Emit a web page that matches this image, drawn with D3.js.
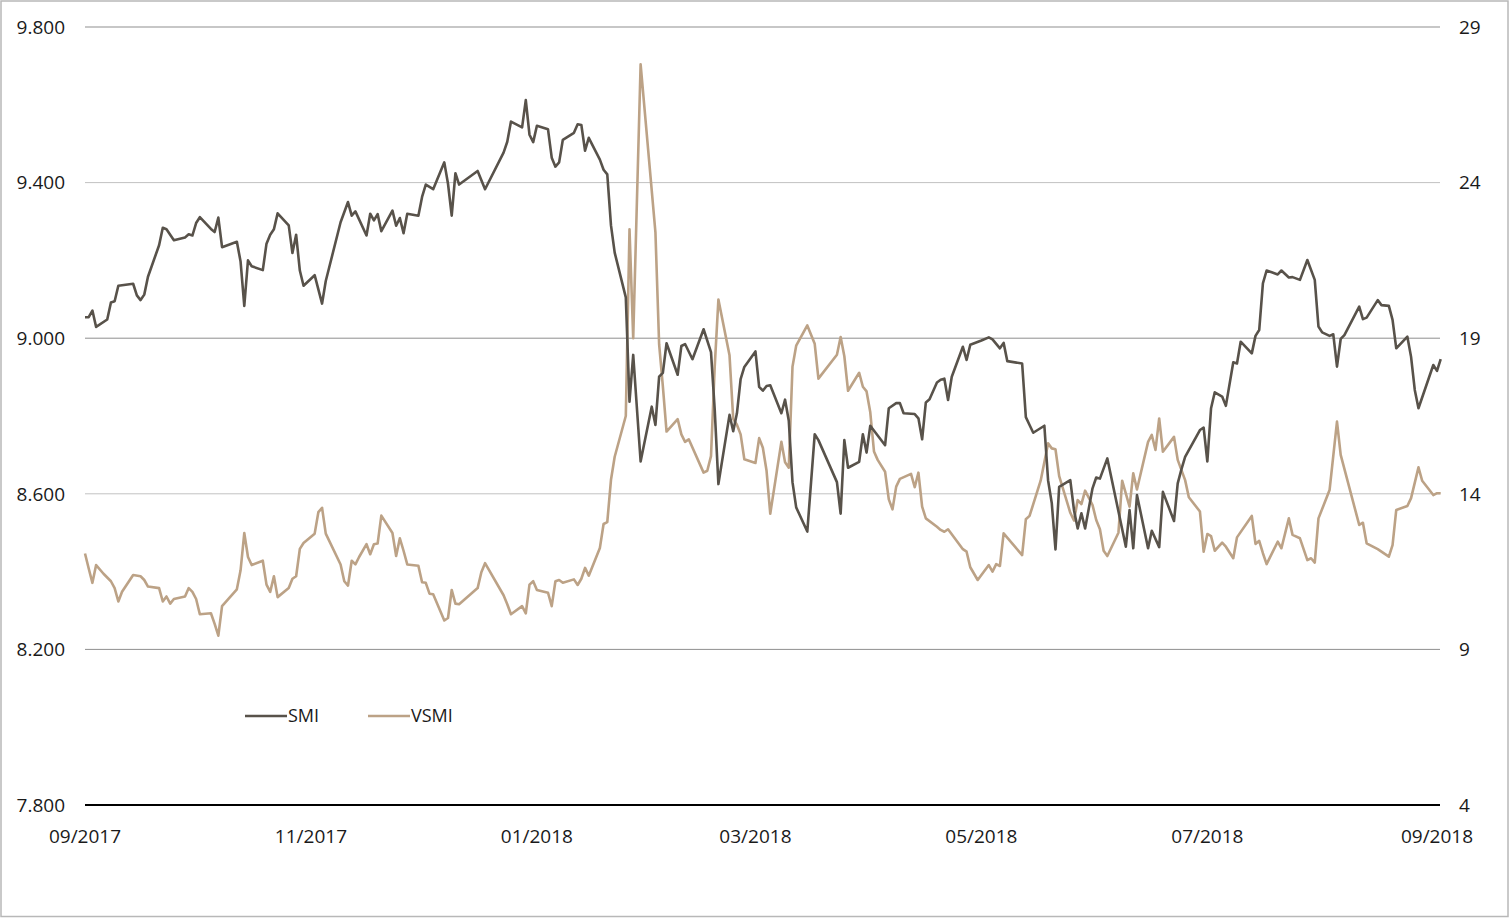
<!DOCTYPE html>
<html>
<head>
<meta charset="utf-8">
<script src="https://cdn.jsdelivr.net/npm/d3@7"></script>
<style>
  body { margin: 0; background: #fff; }
  svg text { font-family: "Open Sans", sans-serif; fill: #1a1a1a; }
</style>
</head>
<body>
<div id="chart"></div>
<script>
// SMI (left axis) and VSMI (right axis)
var smiDates = ["2017-09-01","2017-09-02","2017-09-03","2017-09-04","2017-09-07","2017-09-08","2017-09-09","2017-09-10","2017-09-14","2017-09-15","2017-09-16","2017-09-17","2017-09-18","2017-09-21","2017-09-22","2017-09-23","2017-09-25","2017-09-28","2017-09-29","2017-09-30",
  "2017-10-01","2017-10-02","2017-10-05","2017-10-06","2017-10-07","2017-10-08","2017-10-12","2017-10-13","2017-10-14","2017-10-15","2017-10-16","2017-10-19","2017-10-20","2017-10-21","2017-10-22","2017-10-23","2017-10-26","2017-10-27","2017-10-28","2017-10-29","2017-10-30",
  "2017-11-02","2017-11-04","2017-11-05","2017-11-09","2017-11-11","2017-11-12","2017-11-13","2017-11-16","2017-11-17","2017-11-18","2017-11-19","2017-11-20","2017-11-23","2017-11-24","2017-11-25","2017-11-26","2017-11-27","2017-11-30",
  "2017-12-01","2017-12-02","2017-12-04","2017-12-07","2017-12-08","2017-12-09","2017-12-10","2017-12-11","2017-12-16","2017-12-18","2017-12-23","2017-12-24","2017-12-25","2017-12-28","2017-12-29","2017-12-30","2017-12-31",
  "2018-01-01","2018-01-04","2018-01-05","2018-01-06","2018-01-07","2018-01-08","2018-01-11","2018-01-12","2018-01-13","2018-01-14","2018-01-15","2018-01-18","2018-01-19","2018-01-20","2018-01-21","2018-01-22","2018-01-25","2018-01-26","2018-01-27","2018-01-29",
  "2018-02-01","2018-02-02","2018-02-03","2018-02-04","2018-02-05","2018-02-08","2018-02-09","2018-02-10","2018-02-12","2018-02-15","2018-02-17","2018-02-18","2018-02-19","2018-02-22","2018-02-23","2018-02-24","2018-02-25","2018-02-26",
  "2018-03-01","2018-03-02","2018-03-03","2018-03-04","2018-03-05","2018-03-08","2018-03-09","2018-03-10","2018-03-11","2018-03-12","2018-03-15","2018-03-17","2018-03-18","2018-03-23","2018-03-24","2018-03-25","2018-03-26","2018-03-29","2018-03-30","2018-03-31",
  "2018-04-01","2018-04-05","2018-04-06","2018-04-08","2018-04-09","2018-04-10","2018-04-13","2018-04-14","2018-04-15","2018-04-16","2018-04-17","2018-04-19","2018-04-20","2018-04-21","2018-04-22","2018-04-23","2018-04-26","2018-04-27","2018-04-28",
  "2018-05-01","2018-05-03","2018-05-04","2018-05-06","2018-05-07","2018-05-08","2018-05-12","2018-05-13","2018-05-14","2018-05-15","2018-05-18","2018-05-19","2018-05-20","2018-05-21","2018-05-22","2018-05-25","2018-05-26","2018-05-27","2018-05-28","2018-05-29","2018-05-31",
  "2018-06-01","2018-06-02","2018-06-04","2018-06-09","2018-06-10","2018-06-11","2018-06-12","2018-06-15","2018-06-16","2018-06-18","2018-06-19","2018-06-22","2018-06-23","2018-06-24","2018-06-25","2018-06-29","2018-06-30",
  "2018-07-01","2018-07-02","2018-07-03","2018-07-05","2018-07-06","2018-07-08","2018-07-09","2018-07-10","2018-07-13","2018-07-14","2018-07-15","2018-07-16","2018-07-17","2018-07-20","2018-07-21","2018-07-23","2018-07-24","2018-07-26","2018-07-28","2018-07-30","2018-07-31",
  "2018-08-01","2018-08-03","2018-08-04","2018-08-05","2018-08-06","2018-08-07","2018-08-11","2018-08-12","2018-08-13","2018-08-16","2018-08-17","2018-08-19","2018-08-20","2018-08-21","2018-08-24","2018-08-25","2018-08-26","2018-08-27","2018-08-31",
  "2018-09-01","2018-09-02"];
var smiValues = [9054,9054,9071,9029,9048,9092,9095,9135,9140,9110,9098,9112,9158,9239,9284,9280,9252,9259,9267,9264,
  9296,9311,9281,9273,9310,9234,9248,9197,9083,9200,9185,9175,9243,9266,9280,9321,9290,9219,9266,9174,9135,
  9162,9089,9147,9298,9350,9315,9326,9264,9320,9303,9319,9275,9328,9289,9309,9270,9320,9315,
  9363,9395,9383,9452,9397,9315,9424,9395,9430,9383,9477,9505,9557,9542,9612,9523,9504,
  9546,9537,9464,9441,9452,9510,9528,9550,9548,9482,9515,9459,9433,9421,9290,9220,9105,8837,8957,8683,
  8824,8777,8901,8911,8987,8906,8980,8985,8946,9023,8964,8817,8625,8803,8761,8807,8895,8926,
  8966,8875,8865,8877,8879,8807,8842,8788,8630,8565,8503,8753,8738,8630,8549,8738,8667,8682,8753,8706,
  8775,8725,8820,8833,8833,8807,8805,8794,8740,8835,8843,8886,8893,8896,8841,8901,8978,8944,8983,
  8994,9002,8997,8974,8988,8941,8935,8797,8777,8757,8775,8635,8576,8457,8618,8635,8558,8511,8550,8511,8614,
  8642,8639,8691,8464,8558,8460,8597,8460,8505,8463,8605,8530,8627,8663,8695,8764,8770,
  8683,8820,8861,8850,8826,8938,8935,8991,8961,9006,9021,9141,9174,9164,9174,9156,9157,9150,9201,9150,9030,
  9015,9006,9010,8927,8998,9008,9081,9049,9053,9098,9085,9083,9047,8974,9004,8952,8867,8820,8931,
  8916,8946];

var vsmiDates = ["2017-09-01","2017-09-02","2017-09-03","2017-09-04","2017-09-06","2017-09-08","2017-09-09","2017-09-10","2017-09-11","2017-09-14","2017-09-16","2017-09-17","2017-09-18","2017-09-21","2017-09-22","2017-09-23","2017-09-24","2017-09-25","2017-09-28","2017-09-29","2017-09-30",
  "2017-10-01","2017-10-02","2017-10-05","2017-10-06","2017-10-07","2017-10-08","2017-10-12","2017-10-13","2017-10-14","2017-10-15","2017-10-16","2017-10-19","2017-10-20","2017-10-21","2017-10-22","2017-10-23","2017-10-26","2017-10-27","2017-10-28","2017-10-29","2017-10-30",
  "2017-11-02","2017-11-03","2017-11-04","2017-11-05","2017-11-09","2017-11-10","2017-11-11","2017-11-12","2017-11-13","2017-11-14","2017-11-16","2017-11-17","2017-11-18","2017-11-19","2017-11-20","2017-11-23","2017-11-24","2017-11-25","2017-11-26","2017-11-27","2017-11-30",
  "2017-12-01","2017-12-02","2017-12-03","2017-12-04","2017-12-07","2017-12-08","2017-12-09","2017-12-10","2017-12-11","2017-12-16","2017-12-17","2017-12-18","2017-12-23","2017-12-24","2017-12-25","2017-12-28","2017-12-29","2017-12-30","2017-12-31",
  "2018-01-01","2018-01-04","2018-01-05","2018-01-06","2018-01-07","2018-01-08","2018-01-11","2018-01-12","2018-01-13","2018-01-14","2018-01-15","2018-01-18","2018-01-19","2018-01-20","2018-01-21","2018-01-22","2018-01-25","2018-01-26","2018-01-27","2018-01-29",
  "2018-02-02","2018-02-03","2018-02-04","2018-02-05","2018-02-08","2018-02-09","2018-02-10","2018-02-11","2018-02-15","2018-02-16","2018-02-17","2018-02-18","2018-02-19","2018-02-22","2018-02-23","2018-02-24","2018-02-25","2018-02-26",
  "2018-03-01","2018-03-02","2018-03-03","2018-03-04","2018-03-05","2018-03-08","2018-03-09","2018-03-10","2018-03-11","2018-03-12","2018-03-15","2018-03-17","2018-03-18","2018-03-23","2018-03-24","2018-03-25","2018-03-26","2018-03-29","2018-03-30","2018-03-31",
  "2018-04-01","2018-04-02","2018-04-03","2018-04-05","2018-04-06","2018-04-07","2018-04-08","2018-04-09","2018-04-12","2018-04-13","2018-04-14","2018-04-15","2018-04-16","2018-04-19","2018-04-20","2018-04-21","2018-04-22","2018-04-26","2018-04-27","2018-04-28","2018-04-30",
  "2018-05-03","2018-05-04","2018-05-05","2018-05-06","2018-05-07","2018-05-12","2018-05-13","2018-05-14","2018-05-17","2018-05-19","2018-05-20","2018-05-21","2018-05-22","2018-05-25","2018-05-26","2018-05-27","2018-05-28","2018-05-29","2018-05-31",
  "2018-06-01","2018-06-02","2018-06-03","2018-06-04","2018-06-07","2018-06-08","2018-06-10","2018-06-11","2018-06-12","2018-06-15","2018-06-16","2018-06-17","2018-06-18","2018-06-19","2018-06-22","2018-06-23","2018-06-25","2018-06-26","2018-06-29","2018-06-30",
  "2018-07-01","2018-07-02","2018-07-03","2018-07-05","2018-07-06","2018-07-08","2018-07-09","2018-07-13","2018-07-14","2018-07-15","2018-07-16","2018-07-17","2018-07-20","2018-07-21","2018-07-23","2018-07-24","2018-07-26","2018-07-28","2018-07-29","2018-07-30","2018-07-31",
  "2018-08-03","2018-08-05","2018-08-06","2018-08-11","2018-08-12","2018-08-13","2018-08-16","2018-08-19","2018-08-20","2018-08-21","2018-08-24","2018-08-25","2018-08-27","2018-08-28","2018-08-31",
  "2018-09-01","2018-09-02"];
var vsmiValues = [12.08,11.60,11.14,11.71,11.43,11.19,10.97,10.54,10.85,11.39,11.35,11.23,11.02,10.97,10.54,10.70,10.47,10.62,10.70,10.97,10.85,
  10.62,10.13,10.16,9.82,9.44,10.39,10.93,11.54,12.74,11.97,11.71,11.85,11.08,10.85,11.35,10.68,10.97,11.27,11.35,12.23,12.42,
  12.72,13.41,13.55,12.72,11.73,11.19,11.05,11.85,11.73,11.97,12.38,12.06,12.38,12.40,13.30,12.74,12.00,12.57,12.17,11.73,11.69,
  11.16,11.14,10.79,10.77,9.93,10.01,10.91,10.47,10.45,10.97,11.48,11.77,10.74,10.45,10.13,10.39,10.16,11.08,11.19,
  10.91,10.82,10.39,11.19,11.23,11.14,11.25,11.07,11.27,11.62,11.37,12.26,13.03,13.09,14.45,15.19,16.50,22.50,19.00,27.80,
  22.40,18.80,17.46,16.00,16.40,15.91,15.67,15.75,14.68,14.74,15.21,18.08,20.24,18.45,16.41,16.22,15.91,15.11,
  14.99,15.79,15.48,14.74,13.36,15.67,15.01,14.84,18.08,18.76,19.41,18.82,17.70,18.47,19.04,18.42,17.31,17.89,17.44,17.29,
  16.62,15.36,15.09,14.71,13.82,13.50,14.23,14.48,14.64,14.21,14.68,13.59,13.21,12.94,12.84,12.78,12.86,12.22,12.14,11.64,11.23,
  11.71,11.50,11.74,11.68,12.73,12.03,13.18,13.29,14.42,15.62,15.46,15.43,14.57,13.39,13.14,13.80,13.67,14.10,13.64,
  13.16,12.86,12.17,12.00,12.75,14.42,13.59,14.66,14.14,15.67,15.89,15.41,16.42,15.35,15.83,15.09,14.44,13.89,13.43,12.14,
  12.71,12.64,12.17,12.43,12.30,11.93,12.60,13.29,12.39,12.49,12.09,11.74,12.46,12.25,13.21,12.68,12.57,11.87,11.93,11.79,13.21,
  14.12,16.32,15.25,13.00,13.07,12.41,12.22,11.98,12.35,13.48,13.61,13.86,14.85,14.42,13.96,
  14.02,14.02];

var leftTicks = [7800, 8200, 8600, 9000, 9400, 9800];
var rightTicks = [4, 9, 14, 19, 24, 29];
var seriesNames = ["SMI", "VSMI"];
var seriesColors = ["#58524a", "#bca286"];

var width = 1511,
    height = 919;

var parse = d3.timeParse("%Y-%m-%d");
var chf = d3.formatLocale({decimal: ",", thousands: ".", grouping: [3], currency: ["", ""]});
var fmtLeft = chf.format(",");

var svg = d3.select("#chart")
    .append("svg")
    .attr("width", width)
    .attr("height", height);

// outer frame
svg.append("rect")
    .attr("x", 1).attr("y", 1)
    .attr("width", 1507).attr("height", 915.5)
    .attr("fill", "none")
    .attr("stroke", "#b8b8b8")
    .attr("stroke-width", 1.5);

var x = d3.scaleTime()
    .domain([new Date(2017, 8, 1), new Date(2018, 8, 1)])
    .range([85, 1437]);

var yL = d3.scaleLinear().domain([7800, 9800]).range([805, 27]);
var yR = d3.scaleLinear().domain([4, 29]).range([805, 27]);

// grid
svg.append("g")
    .selectAll("line")
    .data(leftTicks.slice(1))
    .enter().append("line")
    .attr("x1", 85).attr("x2", 1440)
    .attr("y1", function (d) { return yL(d); })
    .attr("y2", function (d) { return yL(d); })
    .attr("stroke", function (d, i) { return i % 2 === 0 ? "#8f8f8f" : "#c2c2c2"; })
    .attr("stroke-width", 1);

svg.append("line")
    .attr("x1", 85).attr("x2", 1440)
    .attr("y1", yL(7800)).attr("y2", yL(7800))
    .attr("stroke", "#000")
    .attr("stroke-width", 2);

// left axis labels
svg.append("g")
    .selectAll("text")
    .data(leftTicks)
    .enter().append("text")
    .attr("x", 65)
    .attr("y", function (d) { return yL(d); })
    .attr("dy", "0.36em")
    .attr("text-anchor", "end")
    .style("font-size", "19px")
    .text(function (d) { return fmtLeft(d); });

// right axis labels
svg.append("g")
    .selectAll("text")
    .data(rightTicks)
    .enter().append("text")
    .attr("x", 1459)
    .attr("y", function (d) { return yR(d); })
    .attr("dy", "0.36em")
    .attr("text-anchor", "start")
    .style("font-size", "19px")
    .text(function (d) { return d; });

// x axis labels
svg.append("g")
    .selectAll("text")
    .data(x.ticks(d3.timeMonth.every(2)))
    .enter().append("text")
    .attr("x", function (d) { return x(d); })
    .attr("y", 843)
    .attr("text-anchor", "middle")
    .style("font-size", "19px")
    .text(function (d) { return d3.timeFormat("%m/%Y")(d); });

var smi = smiDates.map(function (d, i) { return {date: parse(d), value: smiValues[i]}; });
var vsmi = vsmiDates.map(function (d, i) { return {date: parse(d), value: vsmiValues[i]}; });

var lineL = d3.line()
    .x(function (d) { return x(d.date); })
    .y(function (d) { return yL(d.value); });
var lineR = d3.line()
    .x(function (d) { return x(d.date); })
    .y(function (d) { return yR(d.value); });

svg.append("path")
    .datum(vsmi)
    .attr("d", lineR)
    .attr("fill", "none")
    .attr("stroke", seriesColors[1])
    .attr("stroke-width", 2.6)
    .attr("stroke-linejoin", "round");

svg.append("path")
    .datum(smi)
    .attr("d", lineL)
    .attr("fill", "none")
    .attr("stroke", seriesColors[0])
    .attr("stroke-width", 2.6)
    .attr("stroke-linejoin", "round");

// legend
var legend = svg.append("g")
    .selectAll("g")
    .data(seriesNames)
    .enter().append("g")
    .attr("transform", function (d, i) { return "translate(" + (245 + i * 123) + ",716)"; });

legend.append("line")
    .attr("x1", 0).attr("x2", 42)
    .attr("stroke", function (d, i) { return seriesColors[i]; })
    .attr("stroke-width", 2.6);

legend.append("text")
    .attr("x", 43)
    .attr("dy", "0.36em")
    .style("font-size", "18px")
    .text(function (d) { return d; });
</script>
</body>
</html>
